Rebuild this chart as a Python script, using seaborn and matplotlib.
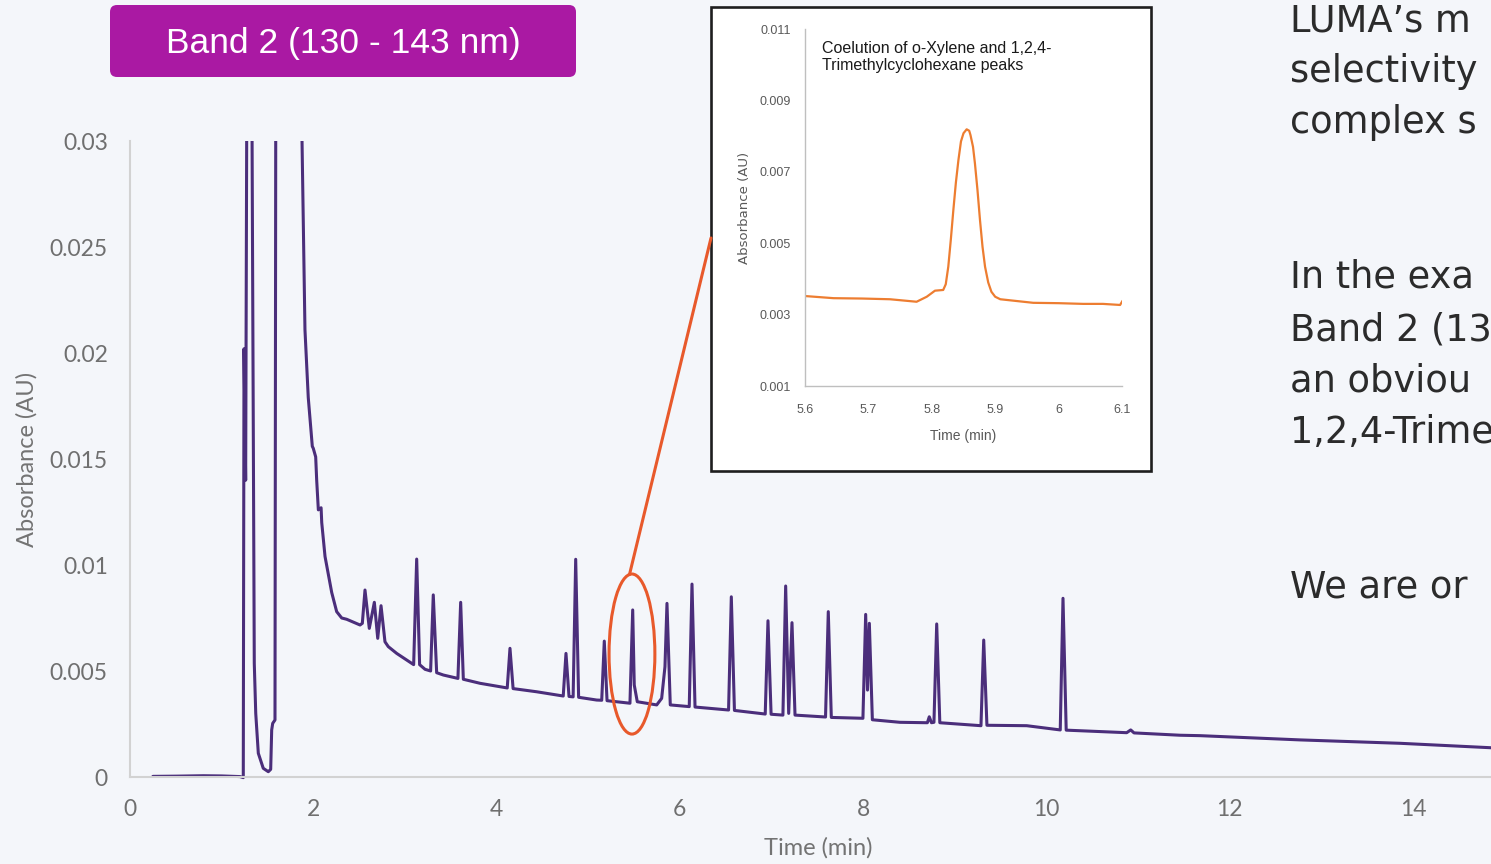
import matplotlib
matplotlib.use("Agg")
import matplotlib.pyplot as plt
from matplotlib.patches import Ellipse, FancyBboxPatch, Rectangle, ConnectionPatch
from matplotlib.transforms import Bbox, TransformedBbox
import pandas as pd
import seaborn as sns

# Band 2 chromatogram (min, AU)
main_time = [0.25, 0.50, 0.80, 1.00, 1.20, 1.236,
             1.244, 1.262, 1.280, 1.310, 1.332, 1.356, 1.372, 1.400, 1.454, 1.509,
             1.535, 1.546, 1.557, 1.582, 1.590, 1.620, 1.850, 1.877,
             1.909, 1.945, 1.989, 2.000, 2.026, 2.037, 2.055, 2.085, 2.092, 2.128,
             2.201, 2.255, 2.310, 2.364, 2.510,
             2.535, 2.564, 2.611, 2.666, 2.703, 2.739, 2.782, 2.818, 2.910,
             3.095, 3.128, 3.160, 3.219, 3.280, 3.309, 3.346, 3.419, 3.578, 3.608,
             3.637, 3.819, 4.116, 4.146, 4.180, 4.438, 4.727, 4.757, 4.790, 4.835,
             4.863, 4.895, 5.092, 5.147, 5.175, 5.205, 5.420, 5.455, 5.485, 5.502,
             5.535, 5.747, 5.801, 5.837, 5.859, 5.895, 6.102, 6.132, 6.165, 6.531,
             6.561, 6.595, 6.931, 6.961, 6.995, 7.124, 7.154, 7.187, 7.223, 7.256,
             7.589, 7.619, 7.652, 7.997, 8.027, 8.047, 8.067, 8.100, 8.401, 8.700,
             8.721, 8.745, 8.772, 8.802, 8.836, 9.285, 9.315, 9.350, 9.784, 10.150,
             10.180, 10.215, 10.875, 10.919, 10.955, 11.457, 11.675, 12.766, 13.857, 14.850]
main_abs = [0.00003, 0.00004, 0.00006, 0.00005, 0.00002, -0.00003,
            0.0202, 0.0140, 0.0400, 0.0500, 0.0300, 0.00536, 0.0030, 0.00112, 0.00041, 0.00025,
            0.00036, 0.00222, 0.00253, 0.00269, 0.0300, 0.0600, 0.0600, 0.0300,
            0.0211, 0.0179, 0.0156, 0.0155, 0.0151, 0.0140, 0.0126, 0.0127, 0.0120, 0.0104,
            0.0087, 0.0078, 0.0075, 0.00744, 0.00717,
            0.00725, 0.00882, 0.00701, 0.00824, 0.00654, 0.00808, 0.00638, 0.00615, 0.00583,
            0.00530, 0.01028, 0.00530, 0.00508, 0.00500, 0.00859, 0.00492, 0.00481, 0.00465, 0.00824,
            0.00461, 0.00442, 0.00420, 0.00607, 0.00417, 0.00402, 0.00382, 0.00583, 0.00380, 0.00378,
            0.01027, 0.00376, 0.00363, 0.00362, 0.00641, 0.00360, 0.00350, 0.00348, 0.00788, 0.00434,
            0.00355, 0.00340, 0.00371, 0.00520, 0.00819, 0.00340, 0.00332, 0.00910, 0.00330, 0.00316,
            0.00850, 0.00314, 0.00297, 0.00737, 0.00296, 0.00292, 0.00901, 0.00300, 0.00728, 0.00292,
            0.00283, 0.00780, 0.00281, 0.00277, 0.00767, 0.00410, 0.00725, 0.00270, 0.00258, 0.00256,
            0.00284, 0.00256, 0.00258, 0.00722, 0.00256, 0.00242, 0.00646, 0.00244, 0.00242, 0.00222,
            0.00843, 0.00221, 0.00209, 0.00222, 0.00208, 0.00197, 0.00195, 0.00175, 0.00159, 0.00138]

# zoomed view of the o-xylene / 1,2,4-trimethylcyclohexane coelution
inset_time = [5.600, 5.645, 5.690, 5.734, 5.776, 5.792, 5.805, 5.818, 5.822, 5.826, 5.830,
              5.834, 5.838, 5.842, 5.846, 5.850, 5.855, 5.859, 5.861, 5.865, 5.868, 5.872,
              5.876, 5.880, 5.884, 5.889, 5.894, 5.900, 5.908, 5.960, 6.000, 6.039, 6.070,
              6.097, 6.101]
inset_abs = [0.00352, 0.00346, 0.00345, 0.00343, 0.00336, 0.00350, 0.00367, 0.00369, 0.00385,
             0.00434, 0.00510, 0.00593, 0.00670, 0.00733, 0.00785, 0.00808, 0.00819, 0.00815,
             0.00803, 0.00770, 0.00724, 0.00650, 0.00565, 0.00490, 0.00434, 0.00390, 0.00364,
             0.00350, 0.00343, 0.00333, 0.00332, 0.00330, 0.00330, 0.00327, 0.00339]

y_ticks = [0, 0.005, 0.01, 0.015, 0.02, 0.025, 0.03]
y_tick_labels = ["0", "0.005", "0.01", "0.015", "0.02", "0.025", "0.03"]
x_ticks = [0, 2, 4, 6, 8, 10, 12, 14]
inset_y_ticks = [0.001, 0.003, 0.005, 0.007, 0.009, 0.011]
inset_y_labels = ["0.001", "0.003", "0.005", "0.007", "0.009", "0.011"]
inset_x_ticks = [5.6, 5.7, 5.8, 5.9, 6.0, 6.1]
inset_x_labels = ["5.6", "5.7", "5.8", "5.9", "6", "6.1"]

side_lines = ["LUMA\u2019s m", "selectivity", "complex s",
              "In the exa", "Band 2 (13", "an obviou", "1,2,4-Trime",
              "We are or"]
side_baselines = [31, 82, 133, 288, 340, 392, 443, 597]

bg = "#f4f6fa"
purple = "#4b2e7b"
accent = "#e8592b"

sns.set_theme(style="white")
plt.rcParams["font.family"] = ["Lato", "DejaVu Sans"]

W, H = 1491, 864
fig = plt.figure(figsize=(W / 100, H / 100), dpi=100, facecolor=bg)

# main chromatogram
ax = fig.add_axes([130 / W, 1 - 777 / H, (W - 130) / W, (777 - 141) / H])
ax.set_facecolor(bg)
main_df = pd.DataFrame({"time": main_time, "abs": main_abs})
sns.lineplot(data=main_df, x="time", y="abs", ax=ax, color=purple, linewidth=2.2,
             estimator=None, sort=False)
ax.set_xlim(0, 14.85)
ax.set_ylim(0, 0.03)
line = ax.lines[0]
line.set_clip_box(TransformedBbox(Bbox([[0, -0.05], [1, 1]]), ax.transAxes))
ax.set_yticks(y_ticks)
ax.set_yticklabels(y_tick_labels)
ax.set_xticks(x_ticks)
ax.tick_params(length=0, labelsize=16.5, colors="#6f6f6f", pad=16)
sns.despine(ax=ax)
for s in ["left", "bottom"]:
    ax.spines[s].set_color("#d2d2d2")
    ax.spines[s].set_linewidth(1.5)
ax.set_xlabel("Time (min)", fontsize=17, color="#737373")
ax.set_ylabel("Absorbance (AU)", fontsize=17, color="#737373")
ax.xaxis.set_label_coords((818 - 130) / (W - 130), -0.094)
ax.yaxis.set_label_coords((38 - 130) / (W - 130), 0.5)

# circled peak
ax.add_patch(Ellipse((5.477, 0.0058), 0.50, 0.00755, fill=False, ec=accent, lw=2.2,
                     zorder=5))

# inset frame
fig.add_artist(Rectangle((711 / W, 1 - 471 / H), 440 / W, 464 / H,
                         transform=fig.transFigure, fc="white", ec="#1e1e1e",
                         lw=1.9, zorder=1))
con = ConnectionPatch(xyA=(5.45, 0.00955), coordsA=ax.transData,
                      xyB=(711 / W, 1 - 238 / H), coordsB=fig.transFigure,
                      color=accent, lw=2.2, zorder=3)
fig.add_artist(con)

# inset chart
ix = fig.add_axes([805 / W, 1 - 386 / H, 317 / W, 357 / H], zorder=2)
ix.set_facecolor("none")
inset_df = pd.DataFrame({"time": inset_time, "abs": inset_abs})
sns.lineplot(data=inset_df, x="time", y="abs", ax=ix, color="#ed7d31", linewidth=1.6,
             estimator=None, sort=False)
ix.set_xlim(5.6, 6.1)
ix.set_ylim(0.001, 0.011)
ix.set_yticks(inset_y_ticks)
ix.set_yticklabels(inset_y_labels)
ix.set_xticks(inset_x_ticks)
ix.set_xticklabels(inset_x_labels)
ix.tick_params(axis="y", length=0, labelsize=9, colors="#595959", pad=10)
ix.tick_params(axis="x", length=0, labelsize=9, colors="#595959", pad=13)
for lab in ix.get_xticklabels() + ix.get_yticklabels():
    lab.set_family("Liberation Sans")
sns.despine(ax=ix)
for s in ["left", "bottom"]:
    ix.spines[s].set_color("#bfbfbf")
    ix.spines[s].set_linewidth(1.0)
ix.set_xlabel("Time (min)", fontsize=10, color="#595959", family="Liberation Sans")
ix.set_ylabel("Absorbance (AU)", fontsize=9.5, color="#595959", family="DejaVu Sans")
ix.xaxis.set_label_coords(0.5, -0.12)
ix.yaxis.set_label_coords((751 - 805) / 317, 0.5)
ix.text(0.054, 0.965, "Coelution of o-Xylene and 1,2,4-\nTrimethylcyclohexane peaks",
        transform=ix.transAxes, ha="left", va="top", fontsize=11.5, color="#1a1a1a",
        family="Liberation Sans", linespacing=1.15)

# title badge
fig.add_artist(FancyBboxPatch((1.10, (H - 77) / 100), 4.66, 0.72,
                              boxstyle="round,pad=0,rounding_size=0.07",
                              transform=fig.dpi_scale_trans, fc="#aa19a3", ec="none"))
fig.text(343 / W, 1 - 43 / H, "Band 2 (130 - 143 nm)", ha="center", va="center",
         fontsize=25.5, color="white", family="Liberation Sans")

# slide text on the right (cut off at the edge, as on the slide)
for txt, b in zip(side_lines, side_baselines):
    fig.text(1290 / W, 1 - b / H, txt, ha="left", va="baseline", fontsize=26.5,
             color="#2b2b2b", family="DejaVu Sans")

fig.savefig("out.png", dpi=100, facecolor=bg)
